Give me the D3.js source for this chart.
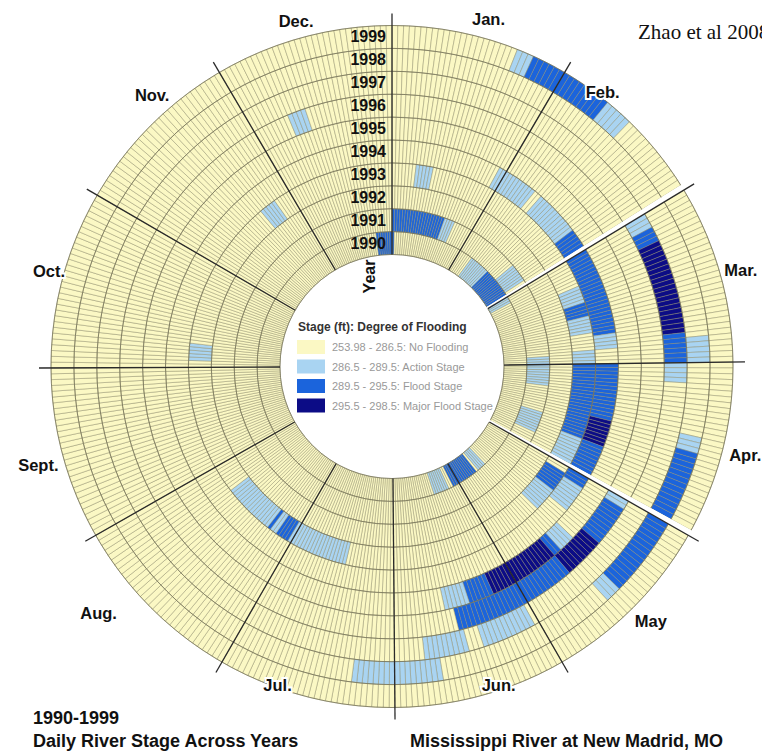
<!DOCTYPE html>
<html>
<head>
<meta charset="utf-8">
<script src="https://cdn.jsdelivr.net/npm/d3@7"></script>
<style>
  body { margin: 0; background: #fff; }
  svg { display: block; font-family: Arial, "Liberation Sans", sans-serif; }
</style>
</head>
<body>
<div id="chart"></div>
<script>
// ---- data ----
const years = [1990, 1991, 1992, 1993, 1994, 1995, 1996, 1997, 1998, 1999];
const monthNames = ["Jan.", "Feb.", "Mar.", "Apr.", "May", "Jun.", "Jul.", "Aug.", "Sept.", "Oct.", "Nov.", "Dec."];
// day slots per month on the wheel (Feb 29 and an empty 31st of April are blank slots)
const monthSlots = [31, 29, 31, 31, 31, 30, 31, 31, 30, 31, 30, 31];
const blankDays = ["02-29", "04-31"];
const stageNames = ["No Flooding", "Action Stage", "Flood Stage", "Major Flood Stage"];
const stageRanges = ["253.98 - 286.5:", "286.5 - 289.5:", "289.5 - 295.5:", "295.5 - 298.5:"];

// runs of days above "No Flooding": [from, to, stage]  (stage 1 action, 2 flood, 3 major)
const floods1990 = [["01-01", "01-01", 2], ["02-07", "02-15", 1], ["02-16", "02-28", 2], ["03-01", "03-03", 1],
  ["05-18", "05-21", 1], ["05-23", "06-03", 2], ["06-06", "06-12", 1], ["12-25", "12-31", 2]];
const floods1991 = [["01-01", "01-20", 2], ["01-21", "01-24", 1], ["02-21", "02-27", 1],
  ["03-29", "04-08", 1], ["04-19", "04-26", 1]];
const floods1992 = [];
const floods1993 = [["01-08", "01-12", 1], ["03-09", "03-13", 1], ["03-14", "03-17", 2], ["03-18", "03-22", 1],
  ["03-28", "03-31", 1], ["04-01", "04-22", 2], ["04-23", "04-30", 1], ["05-03", "05-08", 2], ["05-09", "05-15", 1],
  ["07-15", "08-01", 1], ["08-02", "08-05", 2], ["08-06", "08-07", 1], ["08-08", "08-08", 2],
  ["08-09", "08-23", 1], ["10-03", "10-07", 1], ["11-21", "11-25", 1]];
const floods1994 = [["01-30", "02-09", 1], ["02-12", "02-23", 1], ["02-24", "03-23", 2], ["03-24", "03-27", 1],
  ["04-01", "04-15", 2], ["04-16", "04-22", 3], ["04-23", "05-03", 2], ["05-04", "05-10", 1]];
const floods1995 = [["05-15", "05-18", 1], ["05-19", "05-20", 2], ["05-21", "06-06", 3],
  ["06-07", "06-12", 2], ["06-13", "06-18", 1]];
const floods1996 = [["05-01", "05-02", 1], ["05-03", "05-11", 2], ["05-12", "05-20", 3],
  ["05-21", "06-16", 2], ["12-09", "12-12", 1]];
const floods1997 = [["03-01", "03-03", 1], ["03-04", "03-06", 2], ["03-07", "03-25", 3],
  ["03-26", "03-31", 2], ["04-01", "04-04", 1], ["06-02", "06-12", 1], ["06-16", "06-24", 1]];
const floods1998 = [["03-27", "03-31", 1], ["04-15", "04-17", 1], ["04-18", "05-15", 2],
  ["05-16", "05-18", 1], ["06-22", "07-08", 1]];
const floods1999 = [["01-23", "01-25", 1], ["01-26", "02-09", 2], ["02-10", "02-14", 1]];
const floodsByYear = [floods1990, floods1991, floods1992, floods1993, floods1994,
  floods1995, floods1996, floods1997, floods1998, floods1999];

// ---- layout ----
const width = 762, height = 754;
const cx = 392, cy = 366.5;
const innerR = 112, outerR = 341;
const stageColors = ["#fbf8c4", "#a9d4f2", "#1b64dc", "#0c0c86"];
// month label placement: [angle in degrees, radius]
const monthLabelPos = [[15.5, 361], [37.5, 346], [74.5, 362], [104, 364], [134.5, 363], [161.5, 336],
  [199.8, 338], [230, 383], [254.5, 367], [285.5, 356], [318.5, 362], [344.5, 359]];

const slotCount = d3.sum(monthSlots);
const monthStart = d3.cumsum([0, ...monthSlots.slice(0, -1)]);
const slotOf = (s) => {
  const [m, d] = s.split("-").map(Number);
  return monthStart[m - 1] + d - 1;
};
const blankSlots = new Set(blankDays.map(slotOf));

const angle = d3.scaleLinear().domain([0, slotCount]).range([0, 2 * Math.PI]);
const ring = d3.scaleBand().domain(years).range([innerR, outerR]);
const color = d3.scaleOrdinal().domain([0, 1, 2, 3]).range(stageColors);

// one cell per year and day slot
const cells = [];
years.forEach((year, i) => {
  const stage = new Array(slotCount).fill(0);
  floodsByYear[i].forEach(([from, to, level]) => {
    for (let s = slotOf(from); s <= slotOf(to); s++) stage[s] = level;
  });
  for (let s = 0; s < slotCount; s++) {
    cells.push({ year, slot: s, stage: stage[s], blank: blankSlots.has(s) });
  }
});

const svg = d3
  .select("#chart")
  .append("svg")
  .attr("width", width)
  .attr("height", height);

const wheel = svg.append("g").attr("transform", `translate(${cx},${cy})`);

const cellArc = d3
  .arc()
  .innerRadius((d) => ring(d.year))
  .outerRadius((d) => ring(d.year) + ring.bandwidth())
  .startAngle((d) => angle(d.slot))
  .endAngle((d) => angle(d.slot + 1));

wheel
  .append("g")
  .selectAll("path")
  .data(cells)
  .join("path")
  .attr("d", cellArc)
  .attr("fill", (d) => (d.blank ? "#fff" : color(d.stage)))
  .attr("stroke", (d) => (d.blank ? "none" : "#8d8a68"))
  .attr("stroke-width", 0.45);

// ring borders
wheel
  .append("g")
  .selectAll("circle")
  .data([...years.map((y) => ring(y)), outerR])
  .join("circle")
  .attr("r", (d) => d)
  .attr("fill", "none")
  .attr("stroke", "#6e6b52")
  .attr("stroke-width", 0.7);

// blank slots drawn again on top so they read as white gaps
wheel
  .append("g")
  .selectAll("path")
  .data([...blankSlots])
  .join("path")
  .attr("d", (s) =>
    d3.arc()({ innerRadius: innerR - 1, outerRadius: outerR + 1, startAngle: angle(s), endAngle: angle(s + 1) })
  )
  .attr("fill", "#fff");

// month boundary lines
const radial = (a, r) => [r * Math.sin(a), -r * Math.cos(a)];
wheel
  .append("g")
  .selectAll("line")
  .data(monthStart)
  .join("line")
  .attr("x1", (s) => radial(angle(s), innerR)[0])
  .attr("y1", (s) => radial(angle(s), innerR)[1])
  .attr("x2", (s) => radial(angle(s), outerR + 12)[0])
  .attr("y2", (s) => radial(angle(s), outerR + 12)[1])
  .attr("stroke", "#2a2a2a")
  .attr("stroke-width", 1.3);

// month labels (white halo like the original map labels)
wheel
  .append("g")
  .selectAll("text")
  .data(monthNames)
  .join("text")
  .attr("x", (d, i) => radial((monthLabelPos[i][0] * Math.PI) / 180, monthLabelPos[i][1])[0])
  .attr("y", (d, i) => radial((monthLabelPos[i][0] * Math.PI) / 180, monthLabelPos[i][1])[1])
  .attr("text-anchor", "middle")
  .attr("dominant-baseline", "central")
  .style("font-size", "16.5px")
  .style("font-weight", "bold")
  .attr("fill", "#111")
  .attr("stroke", "#fff")
  .attr("stroke-width", 4)
  .attr("paint-order", "stroke")
  .text((d) => d);

// year labels along the January line
wheel
  .append("g")
  .selectAll("text")
  .data(years)
  .join("text")
  .attr("x", -6)
  .attr("y", (d) => -(ring(d) + ring.bandwidth() / 2))
  .attr("text-anchor", "end")
  .attr("dominant-baseline", "central")
  .style("font-size", "16px")
  .style("font-weight", "bold")
  .attr("fill", "#111")
  .text((d) => d);

wheel
  .append("text")
  .attr("transform", `translate(-23,${-innerR + 22}) rotate(-90)`)
  .attr("text-anchor", "middle")
  .attr("dominant-baseline", "central")
  .style("font-size", "16px")
  .style("font-weight", "bold")
  .attr("fill", "#111")
  .text("Year");

// legend inside the hole
const legend = svg.append("g").attr("transform", "translate(297,327)");
legend
  .append("text")
  .attr("x", 1)
  .attr("y", 4)
  .style("font-size", "12px")
  .style("font-weight", "bold")
  .attr("fill", "#333")
  .text("Stage (ft):  Degree of Flooding");
const rows = legend
  .selectAll("g.row")
  .data(stageNames)
  .join("g")
  .attr("class", "row")
  .attr("transform", (d, i) => `translate(0,${13 + i * 19.5})`);
rows
  .append("rect")
  .attr("width", 28)
  .attr("height", 14)
  .attr("fill", (d, i) => stageColors[i]);
rows
  .append("text")
  .attr("x", 35)
  .attr("y", 7)
  .attr("dominant-baseline", "central")
  .style("font-size", "11px")
  .attr("fill", "#999")
  .text((d, i) => `${stageRanges[i]}  ${d}`);

// captions
svg
  .append("text")
  .attr("x", 638)
  .attr("y", 39)
  .style("font-family", "'Liberation Serif', 'Times New Roman', serif")
  .style("font-size", "21px")
  .attr("fill", "#111")
  .text("Zhao et al 2008");

const caption = svg.append("g").style("font-size", "18px").style("font-weight", "bold").attr("fill", "#111");
caption.append("text").attr("x", 33).attr("y", 724).text("1990-1999");
caption.append("text").attr("x", 33).attr("y", 747).text("Daily River Stage Across Years");
caption.append("text").attr("x", 410).attr("y", 747).text("Mississippi River at New Madrid, MO");
</script>
</body>
</html>
